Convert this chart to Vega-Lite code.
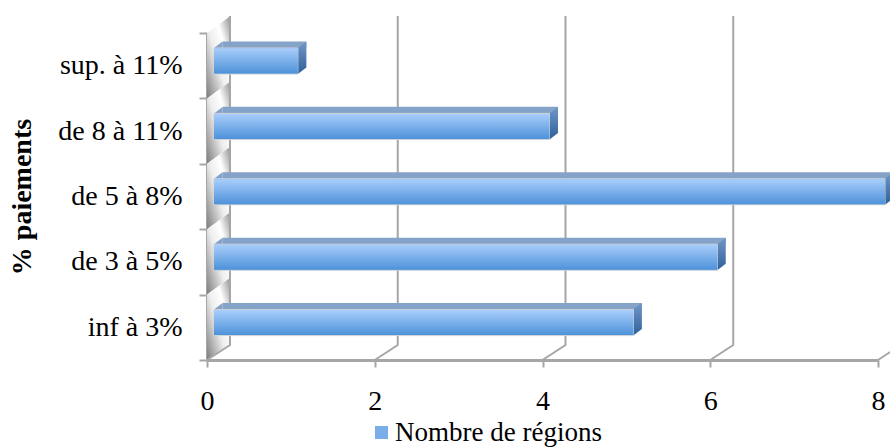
{
"$schema":"https://vega.github.io/schema/vega-lite/v6.json",
"autosize":"none",
"padding":{"left":207,"top":33,"right":12,"bottom":88},
"width":671,"height":327,
"background":"#ffffff",
"config":{"view":{"stroke":null}},
"datasets":{
"bars":[{"cat":"sup. à 11%","n":1},{"cat":"de 8 à 11%","n":4},{"cat":"de 5 à 8%","n":8},{"cat":"de 3 à 5%","n":6},{"cat":"inf à 3%","n":5}],
"ticks":[{"cat":"inf à 3%","tick":0},{"cat":"inf à 3%","tick":2},{"cat":"inf à 3%","tick":4},{"cat":"inf à 3%","tick":6},{"cat":"inf à 3%","tick":8}]
},
"encoding":{
"y":{"field":"cat","type":"nominal","sort":["sup. à 11%","de 8 à 11%","de 5 à 8%","de 3 à 5%","inf à 3%"],"scale":{"paddingInner":0,"paddingOuter":0},
"axis":{"title":"% paiements","titleFont":"Liberation Serif","titleFontSize":28,"titleFontWeight":"bold","titleColor":"#000000","titlePadding":21,
"labelFont":"Liberation Serif","labelFontSize":28,"labelColor":"#000000","labelPadding":17,"labelLimit":300,"tickBand":"extent","tickSize":8,"tickColor":"#a6a6a6","tickWidth":2,"domainColor":"#a6a6a6","domainWidth":3,"grid":false}}
},
"layer":[
{"data":{"name":"bars"},
 "mark":{"type":"point","shape":"M0,32.7L23,16L23,-49.4L0,-32.7Z","size":4,"filled":true,"opacity":1,"fill":{"gradient":"linear","x1":1,"y1":0,"x2":0,"y2":1,"stops":[{"offset":0,"color":"#949494"},{"offset":0.3,"color":"#ffffff"},{"offset":0.55,"color":"#eeeeee"},{"offset":1,"color":"#7c7c7c"}]}},
 "encoding":{"x":{"datum":0,"type":"quantitative"}}},
{"data":{"name":"ticks"},
 "mark":{"type":"point","shape":"M0,32.7L23,17.7L23,-311.3","size":4,"filled":false,"opacity":1,"stroke":"#a6a6a6","strokeWidth":2},
 "encoding":{"x":{"field":"tick","type":"quantitative","scale":{"domain":[0,8]},
   "axis":{"title":null,"values":[0,2,4,6,8],"format":"d","labelFont":"Liberation Serif","labelFontSize":28,"labelColor":"#000000","labelPadding":20,"tickSize":7,"tickColor":"#a6a6a6","tickWidth":2,"domainColor":"#a6a6a6","domainWidth":3,"grid":false,"labelOverlap":false,"labelFlush":false}}}},
{"data":{"name":"bars"},
 "mark":{"type":"bar","size":6.5,"xOffset":15.5,"yOffset":-21,"fill":"#85a2c9"},
 "encoding":{"x":{"field":"n","type":"quantitative"}}},
{"data":{"name":"bars"},
 "mark":{"type":"point","shape":"M7,-17.7L15.5,-24.2L15.5,-17.7Z","size":4,"filled":true,"opacity":1,"fill":"#85a2c9"},
 "encoding":{"x":{"datum":0,"type":"quantitative"}}},
{"data":{"name":"bars"},
 "mark":{"type":"point","shape":"M7,-17.7L15.5,-24.2L15.5,1.8L7,8.3Z","size":4,"filled":true,"opacity":1,"fill":{"gradient":"linear","x1":0,"y1":0,"x2":0,"y2":1,"stops":[{"offset":0,"color":"#7197c8"},{"offset":1,"color":"#2f6099"}]}},
 "encoding":{"x":{"field":"n","type":"quantitative"}}},
{"data":{"name":"bars"},
 "mark":{"type":"bar","size":26,"xOffset":7,"yOffset":-4.7,"stroke":"#d0d3d8","strokeWidth":1},
 "encoding":{"x":{"field":"n","type":"quantitative"},
  "color":{"datum":"Nombre de régions","scale":{"range":["#7aaee8"]},
   "legend":{"title":null,"orient":"none","legendX":161,"legendY":386,"symbolType":"square","symbolSize":170,"symbolStrokeWidth":0,"labelFont":"Liberation Serif","labelFontSize":27,"labelColor":"#000000","labelOffset":0,"labelLimit":400}}}},
{"data":{"name":"bars"},
 "mark":{"type":"bar","size":25,"xOffset":7,"yOffset":-4.7,"fill":{"gradient":"linear","x1":0,"y1":0,"x2":0,"y2":1,"stops":[{"offset":0,"color":"#a8cdfb"},{"offset":1,"color":"#4d92d9"}]}},
 "encoding":{"x":{"field":"n","type":"quantitative"}}}
]
}
